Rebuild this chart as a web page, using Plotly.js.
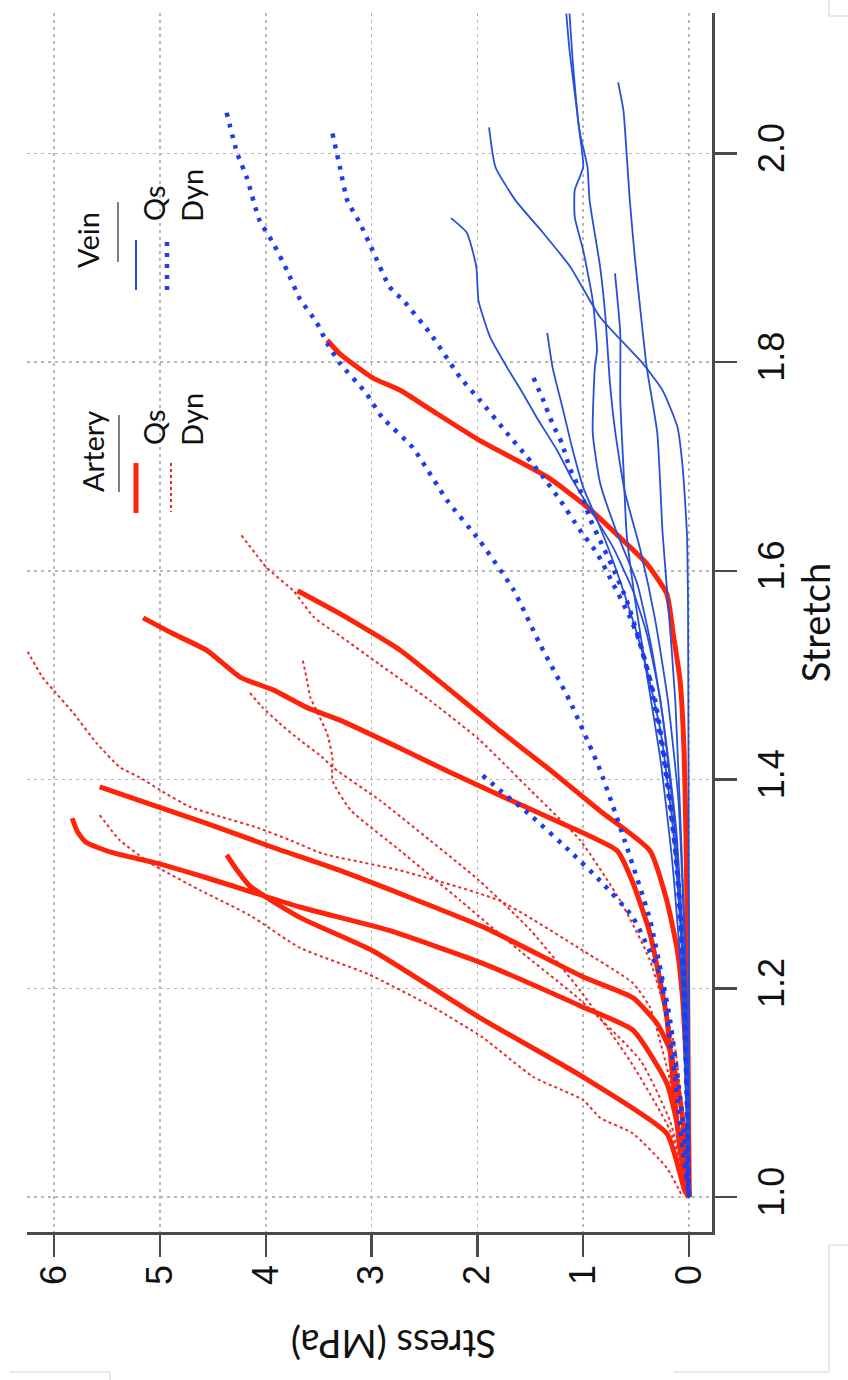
<!DOCTYPE html>
<html><head><meta charset="utf-8">
<script src="https://cdn.plot.ly/plotly-3.0.1.min.js"></script>
<style>html,body{margin:0;padding:0;background:#fff;overflow:hidden}#chart{width:848px;height:1380px}</style>
</head><body><div id="chart"></div>
<script>
// ---------- data (stretch, stress in MPa) ----------
// Artery, quasi-static (solid)
const aq1Stretch = [1.821,1.808,1.785,1.773,1.755,1.725,1.690,1.661,1.626,1.607,1.578,1.540,1.495,1.428,1.35,1.284,1.15,1.0];
const aq1Stress  = [3.42,3.30,2.99,2.73,2.45,1.98,1.34,0.96,0.59,0.40,0.21,0.15,0.085,0.047,0.03,0.02,0.01,0.0];
const aq2Stretch = [1.393,1.380,1.358,1.335,1.313,1.259,1.211,1.191,1.166,1.141,1.093,1.045,1.0];
const aq2Stress  = [5.57,5.19,4.56,3.93,3.30,1.95,1.00,0.53,0.30,0.18,0.085,0.03,0.0];
const aq3Stretch = [1.363,1.350,1.340,1.330,1.320,1.306,1.278,1.256,1.224,1.182,1.160,1.109,1.045,1.0];
const aq3Stress  = [5.83,5.78,5.70,5.45,5.03,4.56,3.68,2.85,1.95,1.00,0.53,0.21,0.06,0.0];
const aq4Stretch = [1.328,1.313,1.298,1.268,1.236,1.172,1.115,1.061,1.006,1.0];
const aq4Stress  = [4.37,4.27,4.15,3.68,2.99,1.98,1.00,0.21,0.04,0.0];
const aq5Stretch = [1.555,1.540,1.524,1.498,1.486,1.469,1.457,1.430,1.407,1.385,1.363,1.332,1.301,1.253,1.205,1.172,1.109,1.045,1.0];
const aq5Stress  = [5.16,4.88,4.56,4.24,3.93,3.61,3.30,2.73,2.26,1.79,1.31,0.68,0.53,0.37,0.27,0.21,0.15,0.085,0.0];
const aq6Stretch = [1.581,1.559,1.524,1.486,1.447,1.409,1.370,1.332,1.284,1.236,1.189,1.093,1.0];
const aq6Stress  = [3.70,3.30,2.73,2.26,1.79,1.31,0.84,0.37,0.21,0.11,0.06,0.01,0.0];

// Artery, dynamic (dotted)
const ad1Stretch = [1.528,1.498,1.486,1.464,1.435,1.412,1.402,1.390,1.374,1.364,1.354,1.342,1.329,1.313,1.284,1.236,1.205,1.182,1.112,1.045,1.0];
const ad1Stress  = [6.28,6.11,6.01,5.82,5.60,5.38,5.19,5.00,4.72,4.41,4.08,3.77,3.46,2.73,1.79,1.00,0.53,0.37,0.18,0.06,0.0];
const ad2Stretch = [1.366,1.342,1.320,1.294,1.270,1.239,1.214,1.182,1.153,1.115,1.093,1.076,1.061,1.028,1.0];
const ad2Stress  = [5.57,5.38,5.09,4.62,4.15,3.68,3.04,2.42,1.95,1.47,1.00,0.84,0.53,0.21,0.06];
const ad3Stretch = [1.634,1.603,1.581,1.569,1.556,1.546,1.540,1.510,1.476,1.438,1.390,1.342,1.284,1.227,1.141,1.0];
const ad3Stress  = [4.23,3.99,3.74,3.65,3.55,3.42,3.33,2.92,2.45,1.98,1.50,1.03,0.65,0.37,0.13,0.0];
const ad4Stretch = [1.514,1.495,1.479,1.466,1.444,1.421,1.399,1.371,1.332,1.284,1.236,1.189,1.131,1.073,1.0];
const ad4Stress  = [3.65,3.61,3.58,3.52,3.42,3.37,3.37,3.20,2.73,2.16,1.60,1.03,0.46,0.18,0.0];
const ad5Stretch = [1.483,1.469,1.454,1.438,1.421,1.412,1.380,1.342,1.303,1.256,1.198,1.131,1.064,1.0];
const ad5Stress  = [4.15,4.03,3.87,3.68,3.46,3.37,2.92,2.45,1.98,1.50,1.03,0.56,0.18,0.0];

// Vein, quasi-static (solid)
const vq1Stretch = [2.025,1.987,1.955,1.924,1.891,1.843,1.799,1.773,1.738,1.699,1.636,1.572,1.40,1.20,1.0];
const vq1Stress  = [1.89,1.83,1.64,1.38,1.12,0.84,0.44,0.25,0.11,0.06,0.02,0.01,0.005,0.0,0.0];
const vq2Stretch = [1.938,1.924,1.891,1.859,1.824,1.795,1.770,1.747,1.716,1.687,1.655,1.623,1.581,1.540,1.476,1.380,1.284,1.141,1.0];
const vq2Stress  = [2.25,2.10,2.01,1.99,1.88,1.72,1.57,1.44,1.25,1.10,0.91,0.72,0.53,0.40,0.27,0.16,0.085,0.03,0.0];
const vq3Stretch = [1.828,1.795,1.754,1.716,1.680,1.649,1.610,1.562,1.514,1.447,1.361,1.265,1.141,1.0];
const vq3Stress  = [1.34,1.29,1.19,1.10,1.00,0.87,0.72,0.56,0.42,0.27,0.16,0.085,0.02,0.0];
const vq4Stretch = [1.885,1.828,1.764,1.699,1.636,1.572,1.495,1.419,1.323,1.208,1.0];
const vq4Stress  = [0.70,0.65,0.65,0.62,0.59,0.51,0.39,0.27,0.16,0.07,0.0];
const vq5Stretch = [2.068,2.041,2.000,1.955,1.898,1.850,1.795,1.732,1.636,1.572,1.476,1.332,1.189,1.0];
const vq5Stress  = [0.67,0.62,0.59,0.56,0.51,0.46,0.40,0.30,0.25,0.20,0.13,0.07,0.02,0.0];
const vq6Stretch = [2.134,2.099,2.058,2.019,1.987,1.955,1.891,1.843,1.783,1.735,1.677,1.620,1.553,1.476,1.380,1.236,1.0];
const vq6Stress  = [1.16,1.13,1.08,1.03,0.96,0.94,0.84,0.79,0.75,0.70,0.61,0.46,0.32,0.20,0.10,0.04,0.0];
const vq7Stretch = [2.134,2.089,2.032,1.987,1.965,1.939,1.907,1.859,1.811,1.795,1.732,1.684,1.636,1.588,1.524,1.447,1.351,1.227,1.0];
const vq7Stress  = [1.13,1.10,1.05,1.00,1.08,1.08,1.00,0.91,0.87,0.89,0.91,0.84,0.68,0.49,0.35,0.23,0.12,0.05,0.0];

// Vein, dynamic (dotted)
const vd1Stretch = [2.039,2.000,1.977,1.936,1.914,1.888,1.861,1.838,1.818,1.799,1.770,1.747,1.718,1.668,1.629,1.582,1.530,1.476,1.409,1.342,1.266,1.170,1.074,1.0];
const vd1Stress  = [4.37,4.27,4.18,4.06,3.93,3.80,3.68,3.52,3.42,3.30,3.05,2.90,2.61,2.29,1.98,1.66,1.41,1.13,0.84,0.61,0.37,0.18,0.06,0.0];
const vd2Stretch = [2.019,1.987,1.955,1.933,1.907,1.872,1.859,1.828,1.785,1.764,1.732,1.709,1.690,1.668,1.639,1.617,1.588,1.556,1.530,1.476,1.399,1.303,1.189,1.0];
const vd2Stress  = [3.37,3.30,3.23,3.11,2.99,2.83,2.70,2.45,2.16,1.98,1.72,1.53,1.38,1.22,1.03,0.87,0.72,0.56,0.46,0.32,0.20,0.10,0.04,0.0];
const vd3Stretch = [1.785,1.764,1.741,1.722,1.699,1.677,1.651,1.629,1.603,1.572,1.540,1.495,1.428,1.332,1.227,1.0];
const vd3Stress  = [1.47,1.38,1.29,1.20,1.13,1.03,0.94,0.84,0.72,0.59,0.49,0.37,0.25,0.13,0.06,0.0];
const vd4Stretch = [1.404,1.390,1.366,1.329,1.303,1.268,1.211,1.172,1.112,1.045,1.0];
const vd4Stress  = [1.95,1.79,1.50,1.10,0.84,0.53,0.27,0.21,0.13,0.06,0.0];

// axes
const stressTicks  = [0,1,2,3,4,5,6];
const stretchTicks = [1.0,1.2,1.4,1.6,1.8,2.0];
const stretchTickText = ['1.0','1.2','1.4','1.6','1.8','2.0'];

// ---------- styles ----------
const RED = 'rgb(255,35,10)', RED_DOT = 'rgb(232,45,45)';
const BLUE = 'rgb(40,80,215)', BLUE_DOT = 'rgb(30,60,235)';
const arteryQs  = {color: RED, width: 5};
const arteryDyn = {color: RED_DOT, width: 2, dash: '3px,3px'};
const veinQs    = {color: BLUE, width: 1.8};
const veinDyn   = {color: BLUE_DOT, width: 4.5, dash: '4px,7px'};

function tr(stretch, stress, line, name) {
  return {type: 'scatter', mode: 'lines', x: stress, y: stretch, name: name,
          line: Object.assign({shape: 'spline', smoothing: 0.5}, line), hoverinfo: 'skip'};
}
const traces = [
  tr(ad1Stretch, ad1Stress, arteryDyn, 'Artery Dyn'),
  tr(ad2Stretch, ad2Stress, arteryDyn, 'Artery Dyn'),
  tr(ad3Stretch, ad3Stress, arteryDyn, 'Artery Dyn'),
  tr(ad4Stretch, ad4Stress, arteryDyn, 'Artery Dyn'),
  tr(ad5Stretch, ad5Stress, arteryDyn, 'Artery Dyn'),
  tr(aq1Stretch, aq1Stress, arteryQs, 'Artery Qs'),
  tr(aq2Stretch, aq2Stress, arteryQs, 'Artery Qs'),
  tr(aq3Stretch, aq3Stress, arteryQs, 'Artery Qs'),
  tr(aq4Stretch, aq4Stress, arteryQs, 'Artery Qs'),
  tr(aq5Stretch, aq5Stress, arteryQs, 'Artery Qs'),
  tr(aq6Stretch, aq6Stress, arteryQs, 'Artery Qs'),
  tr(vq1Stretch, vq1Stress, veinQs, 'Vein Qs'),
  tr(vq2Stretch, vq2Stress, veinQs, 'Vein Qs'),
  tr(vq3Stretch, vq3Stress, veinQs, 'Vein Qs'),
  tr(vq4Stretch, vq4Stress, veinQs, 'Vein Qs'),
  tr(vq5Stretch, vq5Stress, veinQs, 'Vein Qs'),
  tr(vq6Stretch, vq6Stress, veinQs, 'Vein Qs'),
  tr(vq7Stretch, vq7Stress, veinQs, 'Vein Qs'),
  tr(vd1Stretch, vd1Stress, veinDyn, 'Vein Dyn'),
  tr(vd2Stretch, vd2Stress, veinDyn, 'Vein Dyn'),
  tr(vd3Stretch, vd3Stress, veinDyn, 'Vein Dyn'),
  tr(vd4Stretch, vd4Stress, veinDyn, 'Vein Dyn')
];

// ---------- layout helpers (page pixel -> paper) ----------
const PL = 27, PR = 712, PT = 13, PB = 1232;
const px = x => (x - PL) / (PR - PL);
const py = y => (PB - y) / (PB - PT);
const AX = '#4a4a4a';
const TXT = {family: 'Lato, "Open Sans", sans-serif', size: 29, color: '#111'};
const TITLE_FONT = {family: 'Lato, "Open Sans", sans-serif', size: 38, color: '#111'};

function seg(x0, y0, x1, y1, line, layer) {
  return {type: 'line', xref: 'paper', yref: 'paper', x0: px(x0), y0: py(y0), x1: px(x1), y1: py(y1),
          line: line, layer: layer || 'above'};
}
function box(x0, y0, x1, y1) {
  return {type: 'rect', xref: 'paper', yref: 'paper', x0: px(x0), y0: py(y0), x1: px(x1), y1: py(y1),
          fillcolor: '#fff', line: {width: 0}, layer: 'between'};
}
function label(text, x, y, angle, font) {
  return {text: text, xref: 'paper', yref: 'paper', x: px(x), y: py(y), textangle: angle,
          showarrow: false, xanchor: 'center', yanchor: 'middle', font: font || TXT};
}
const FRAME = {color: '#d2d2d2', width: 1};

const layout = {
  width: 848, height: 1380,
  margin: {l: PL, r: 848 - PR, t: PT, b: 1380 - PB},
  paper_bgcolor: '#fff', plot_bgcolor: '#fff',
  showlegend: false,
  xaxis: {
    range: [6.257, -0.217], tickvals: stressTicks, ticktext: stressTicks.map(String),
    showgrid: true, gridcolor: '#b8b8b8', griddash: '3px,4px', gridwidth: 1.5,
    zeroline: false, showline: true, linecolor: AX, linewidth: 2.5, mirror: false,
    ticks: 'outside', ticklen: 22, tickwidth: 2.5, tickcolor: AX,
    tickangle: -90, ticklabelstandoff: -6,
    tickfont: {family: '"Liberation Sans", Arial, sans-serif', size: 36, color: '#111'}
  },
  yaxis: {
    side: 'right', range: [0.9666, 2.1345], tickvals: stretchTicks, ticktext: stretchTickText,
    showgrid: true, gridcolor: '#b8b8b8', griddash: '3px,4px', gridwidth: 1.5,
    zeroline: false, showline: true, linecolor: AX, linewidth: 2.5, mirror: false,
    ticks: 'outside', ticklen: 22, tickwidth: 2.5, tickcolor: AX,
    tickangle: -90, ticklabelstandoff: 4,
    tickfont: {family: '"Liberation Sans", Arial, sans-serif', size: 36, color: '#111'},
    title: {text: 'Stretch', standoff: 12, font: TITLE_FONT}
  },
  shapes: [
    // legend backgrounds
    box(68, 150, 218, 295),
    box(68, 372, 206, 515),
    // Vein legend
    seg(118, 202, 118, 262, {color: '#555', width: 1.5}),
    seg(136, 240, 136, 290, {color: BLUE, width: 2}),
    seg(167, 242, 167, 292, {color: BLUE_DOT, width: 4.5, dash: '4px,7px'}),
    // Artery legend
    seg(119, 415, 119, 492, {color: '#555', width: 1.5}),
    seg(136, 463, 136, 513, {color: RED, width: 5}),
    seg(171, 463, 171, 512, {color: RED_DOT, width: 2, dash: '3px,3px'}),
    // page frame remnants
    seg(829, 0, 829, 16, FRAME), seg(829, 16, 848, 16, FRAME),
    seg(829, 1245, 848, 1245, FRAME), seg(829, 1245, 829, 1372, FRAME), seg(673, 1372, 829, 1372, FRAME),
    seg(9, 1372, 110, 1372, FRAME), seg(110, 1372, 110, 1380, FRAME)
  ],
  annotations: [
    label('Vein', 88, 240, -90),
    label('Qs', 153, 203, -90),
    label('Dyn', 191, 196, -90),
    label('Artery', 92, 452, -90),
    label('Qs', 153, 427, -90),
    label('Dyn', 192, 420, -90),
    label('Stress (MPa)', 393, 1345, 180, TITLE_FONT)
  ]
};

Plotly.newPlot('chart', traces, layout, {displayModeBar: false, staticPlot: true});
</script>
</body></html>
